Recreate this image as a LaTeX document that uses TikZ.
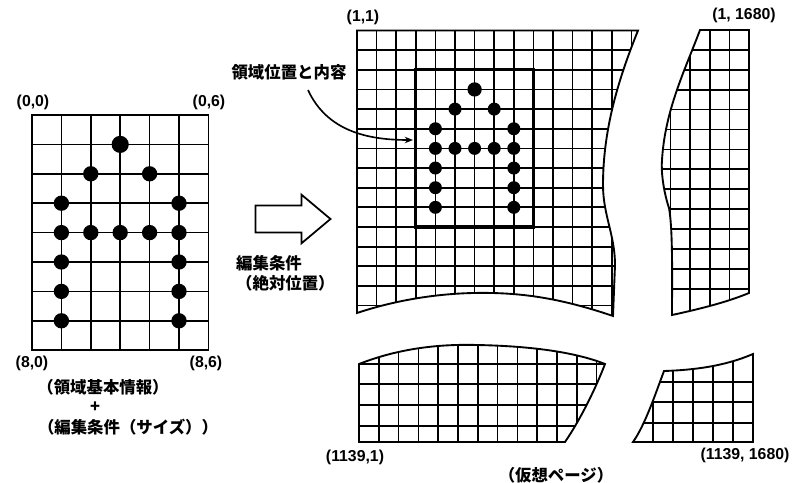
\documentclass[tikz,border=0pt]{standalone}
\usepackage{fontspec}
\setmainfont{Noto Sans CJK JP}
\newfontfamily\numfont{Liberation Sans}
\usetikzlibrary{positioning,arrows.meta,shapes.arrows,calc}

\def\pagemain{(357,30.5) -- (638,30.5)
    .. controls (618,80) and (603,130) .. (603,185)
    .. controls (603,215) and (615,235) .. (615,265) -- (613,316)
    .. controls (560,298) and (520,292) .. (473,293)
    .. controls (430,294) and (390,302) .. (357,313) -- cycle}
\def\pageright{(700,30) -- (749,30) -- (749,293)
    .. controls (725,303) and (695,310) .. (672,315)
    .. controls (672,280) and (673,230) .. (669,208)
    .. controls (663,190) and (661,170) .. (662,160)
    .. controls (665,110) and (685,70) .. (700,30) -- cycle}
\def\pagebottom{(359,364)
    .. controls (400,348) and (440,344) .. (477,345)
    .. controls (530,346) and (575,352) .. (605,364)
    .. controls (595,390) and (580,420) .. (565,442) -- (359,442) -- cycle}
\def\pagecorner{(664,371)
    .. controls (695,370) and (725,366) .. (753,354) -- (753,442) -- (633,442)
    .. controls (645,425) and (655,395) .. (664,371) -- cycle}

\begin{document}
\begin{tikzpicture}[
        x=0.03cm, y=-0.03cm,
        gridline/.style={line width=1.5pt, line cap=rect},
        outline/.style={line width=1.6pt},
        region/.style={line width=2.8pt},
        coordlbl/.style={font=\numfont\bfseries\fontsize{13.5}{15}\selectfont, inner sep=0pt},
        jtext/.style={font=\bfseries\fontsize{14}{17}\selectfont, inner sep=0pt, align=left},
        arrow/.style={-{Stealth[length=7pt,width=5.5pt]}, line width=1.4pt},
        bigarrow/.style={draw, single arrow, line width=1.5pt, inner xsep=0pt, inner ysep=0.375cm,
                         minimum height=2.25cm, single arrow head extend=0.33cm,
                         single arrow tip angle=80},
    ]
    \useasboundingbox (0,0) rectangle (792,483);

    % region basic info
    \foreach \i in {0,...,6}
        \draw[gridline] (32+29.4*\i,115) -- (32+29.4*\i,350.2);
    \foreach \j in {0,...,8}
        \draw[gridline] (32,115+29.4*\j) -- (208.4,115+29.4*\j);
    \foreach \c/\r/\s in {3/1/1.12,2/2/1,4/2/1,1/3/1,5/3/1,1/4/1,2/4/1,3/4/1,4/4/1,5/4/1,
                          1/5/1,5/5/1,1/6/1,5/6/1,1/7/1,5/7/1}
        \fill (32+29.4*\c,115+29.4*\r) circle[radius=\s*0.23cm];

    \node[coordlbl] (tl) at (33,102)  {(0,0)};
    \node[coordlbl] (tr) at (209,102) {(0,6)};
    \node[coordlbl] (bl) at (32,363)  {(8,0)};
    \node[coordlbl] (br) at (206,363) {(8,6)};
    \node[jtext] (basic) at (103,387) {（領域基本情報）};
    \node[jtext] (plus)  at (95,407)  {+};
    \node[jtext] (size)  at (128,427) {（編集条件（サイズ））};

    \node[bigarrow] (shift) at (285,219) {};
    \node[jtext, anchor=west] (absolute) at (236,273) {編集条件\\（絶対位置）};

    % virtual page
    \begin{scope}
        \clip \pagemain;
        \foreach \i in {1,...,14}
            \draw[gridline] (357+19.6*\i,20) -- (357+19.6*\i,330);
        \foreach \j in {1,...,14}
            \draw[gridline] (350,30.5+19.65*\j) -- (650,30.5+19.65*\j);
    \end{scope}
    \draw[outline] \pagemain;
    \draw[region] (357+19.6*3,30.5+19.65*2) rectangle (357+19.6*9,30.5+19.65*10);
    \foreach \c/\r/\s in {3/1/1.1,2/2/1,4/2/1,1/3/1,5/3/1,1/4/1,2/4/1,3/4/1,4/4/1,5/4/1,
                          1/5/1,5/5/1,1/6/1,5/6/1,1/7/1,5/7/1}
        \fill (357+19.6*\c+58.8,30.5+19.65*\r+39.3) circle[radius=\s*0.195cm];

    \begin{scope}
        \clip \pageright;
        \foreach \i in {1,...,4}
            \draw[gridline] (749-19.6*\i,20) -- (749-19.6*\i,330);
        \foreach \j in {1,...,13}
            \draw[gridline] (650,30+19.9*\j) -- (760,30+19.9*\j);
    \end{scope}
    \draw[outline] \pageright;

    \begin{scope}
        \clip \pagebottom;
        \foreach \i in {1,...,12}
            \draw[gridline] (359+19.8*\i,330) -- (359+19.8*\i,450);
        \foreach \y in {364,384,405,426}
            \draw[gridline] (350,\y) -- (620,\y);
    \end{scope}
    \draw[outline] \pagebottom;

    \begin{scope}
        \clip \pagecorner;
        \foreach \x in {653,673,693,713,733}
            \draw[gridline] (\x,340) -- (\x,450);
        \foreach \y in {382,402,423}
            \draw[gridline] (620,\y) -- (760,\y);
    \end{scope}
    \draw[outline] \pagecorner;

    \node[coordlbl] (first)   at (363,17)  {(1,1)};
    \node[coordlbl] (topend)  at (744,15)  {(1, 1680)};
    \node[coordlbl] (lastrow) at (355,457) {(1139,1)};
    \node[coordlbl] (last)    at (745,455) {(1139, 1680)};
    \node[jtext] (virtual) at (556,475) {（仮想ページ）};

    \node[jtext] (placement) at (289,72) {領域位置と内容};
    \coordinate (target) at (413,140);
    \draw[arrow] ($(placement.south)+(19,10)$) to[out=-65,in=180] (target);
\end{tikzpicture}
\end{document}
